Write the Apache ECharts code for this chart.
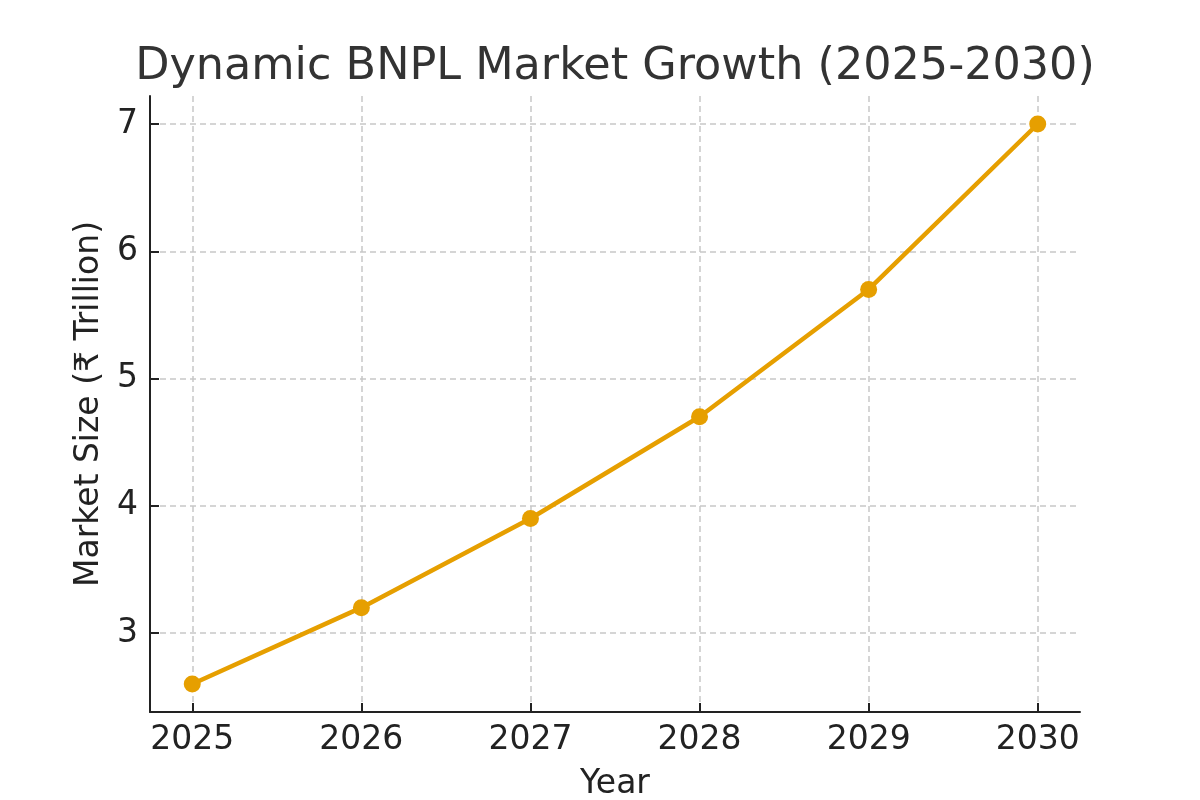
<!DOCTYPE html>
<html>
<head>
<meta charset="utf-8">
<script src="https://cdn.jsdelivr.net/npm/echarts@6/dist/echarts.min.js"></script>
<style>
  html, body { margin: 0; padding: 0; background: #fff; }
  #main { width: 1200px; height: 800px; }
</style>
</head>
<body>
<div id="main"></div>
<script>
// chart data
const years = [2025, 2026, 2027, 2028, 2029, 2030];
const marketSize = [2.6, 3.2, 3.9, 4.7, 5.7, 7.0];
const yTicks = [3, 4, 5, 6, 7];

const font = "DejaVu Sans";
const lineColor = "#E69F00";

let myEchart = echarts.init(document.getElementById("main"));
let option = {
  animation: false,
  title: {
    text: "Dynamic BNPL Market Growth (2025-2030)",
    left: 610,
    top: 40,
    textAlign: "center",
    textStyle: { fontFamily: font, fontSize: 44.5, fontWeight: "normal", color: "#333" },
  },
  grid: { left: 150, right: 120, top: 96, bottom: 88, containLabel: false, outerBoundsMode: "none" },
  xAxis: {
    type: "value",
    min: 2024.75,
    max: 2030.25,
    name: "Year",
    nameLocation: "middle",
    nameGap: 56,
    nameTextStyle: { fontFamily: font, fontSize: 33, color: "#222" },
    axisLine: { show: true, lineStyle: { color: "#222", width: 2 } },
    axisTick: { show: true, inside: true, length: 9, customValues: years, lineStyle: { color: "#222", width: 2 } },
    axisLabel: {
      fontFamily: font, fontSize: 33, color: "#222", margin: 12,
      customValues: years,
      formatter: (v) => String(v),
    },
    splitLine: { show: true, lineStyle: { color: "#c8c8c8", width: 1.5, type: [6, 4] } },
  },
  yAxis: {
    type: "value",
    min: 2.38,
    max: 7.22,
    name: "Market Size (₹ Trillion)",
    nameLocation: "middle",
    nameGap: 42,
    nameTextStyle: { fontFamily: font, fontSize: 33, color: "#222" },
    axisLine: { show: true, lineStyle: { color: "#222", width: 2 } },
    axisTick: { show: true, inside: true, length: 9, customValues: yTicks, lineStyle: { color: "#222", width: 2 } },
    axisLabel: {
      fontFamily: font, fontSize: 33, color: "#222", margin: 12,
      customValues: yTicks,
      formatter: (v) => String(v),
    },
    splitLine: { show: true, lineStyle: { color: "#c8c8c8", width: 1.5, type: [6, 4] } },
  },
  series: [
    {
      type: "line",
      data: years.map((y, i) => [y, marketSize[i]]),
      symbol: "circle",
      symbolSize: 17,
      lineStyle: { color: lineColor, width: 4.5 },
      itemStyle: { color: lineColor },
    },
  ],
};
myEchart.setOption(option, true);
</script>
</body>
</html>
